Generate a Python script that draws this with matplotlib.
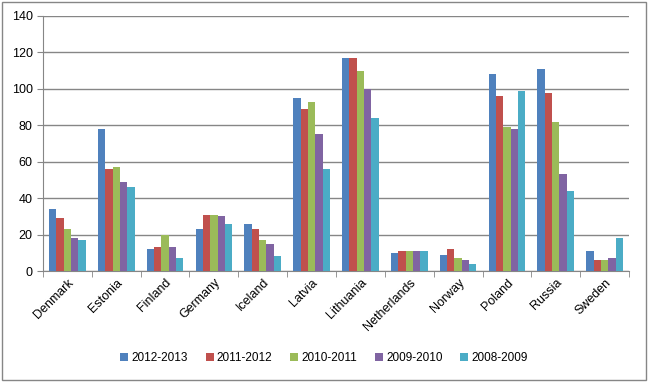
import matplotlib.pyplot as plt
from matplotlib.patches import Rectangle
import numpy as np

countries = ['Denmark', 'Estonia', 'Finland', 'Germany', 'Iceland', 'Latvia',
             'Lithuania', 'Netherlands', 'Norway', 'Poland', 'Russia', 'Sweden']
seasons = ['2012-2013', '2011-2012', '2010-2011', '2009-2010', '2008-2009']
v_2012_2013 = [34, 78, 12, 23, 26, 95, 117, 10, 9, 108, 111, 11]
v_2011_2012 = [29, 56, 13, 31, 23, 89, 117, 11, 12, 96, 98, 6]
v_2010_2011 = [23, 57, 20, 31, 17, 93, 110, 11, 7, 79, 82, 6]
v_2009_2010 = [18, 49, 13, 30, 15, 75, 100, 11, 6, 78, 53, 7]
v_2008_2009 = [17, 46, 7, 26, 8, 56, 84, 11, 4, 99, 44, 18]
series = [v_2012_2013, v_2011_2012, v_2010_2011, v_2009_2010, v_2008_2009]
colors = ['#4F81BD', '#C0504D', '#9BBB59', '#8064A2', '#4BACC6']

plt.rcParams['font.family'] = ['Liberation Sans', 'DejaVu Sans']

fig = plt.figure(figsize=(6.48, 3.82), dpi=100)
ax = fig.add_axes([43 / 648, 1 - 271 / 382, (629 - 43) / 648, (271 - 16) / 382])

x = np.arange(len(countries))
w = 0.15
for i, (vals, col) in enumerate(zip(series, colors)):
    ax.bar(x + (i - 2) * w, vals, width=w, color=col, label=seasons[i], zorder=3)

ax.set_xlim(-0.5, len(countries) - 0.5)
ax.set_ylim(0, 140)
ax.set_yticks(range(0, 141, 20))
ax.yaxis.grid(True, color='#868686', linewidth=1, zorder=0)
ax.set_xticks(x)
ax.set_xticklabels(countries, rotation=45, ha='right', rotation_mode='anchor', fontsize=9)
ax.set_xticks(np.arange(-0.5, len(countries), 1), minor=True)
ax.tick_params(axis='x', which='major', length=0, pad=4)
ax.tick_params(axis='x', which='minor', length=4, color='#868686')
ax.tick_params(axis='y', length=4, color='#868686', labelsize=9)
for s in ['top', 'right']:
    ax.spines[s].set_visible(False)
for s in ['left', 'bottom']:
    ax.spines[s].set_color('#868686')

fig.legend(loc='center', bbox_to_anchor=(0.5, 1 - 358 / 382), ncol=5, frameon=False,
           fontsize=8.5, handlelength=0.7, handleheight=0.7, handletextpad=0.25,
           columnspacing=1.5)

border = Rectangle((0.003, 0.004), 0.994, 0.992, transform=fig.transFigure,
                   fill=False, edgecolor='#868686', linewidth=1)
fig.patches.append(border)

fig.savefig('out.png', dpi=100)
